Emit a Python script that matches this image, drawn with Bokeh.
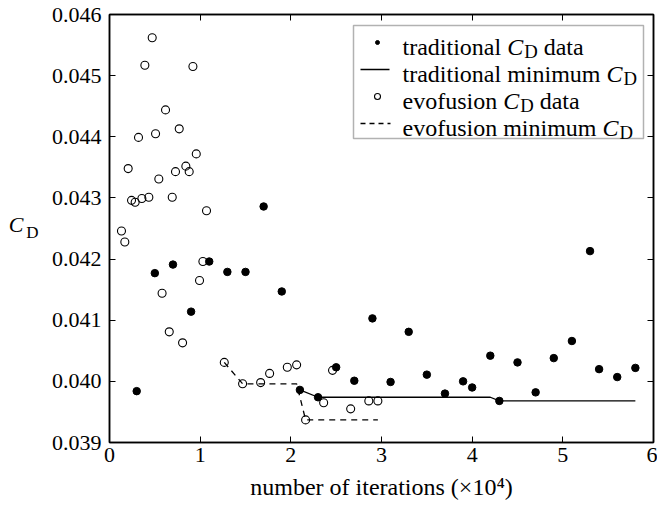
from bokeh.plotting import figure
from bokeh.models import (Range1d, FixedTicker, PrintfTickFormatter, LinearAxis,
                          CustomJSTickFormatter, Label, BoxAnnotation)
from bokeh.embed import file_html
from bokeh.resources import INLINE

# ---------------- data ----------------
trad_x = [0.3, 0.5, 0.7, 0.9, 1.1, 1.3, 1.5, 1.7, 1.9, 2.1, 2.3, 2.5, 2.7, 2.9, 3.1,
          3.3, 3.5, 3.7, 3.9, 4.0, 4.2, 4.3, 4.5, 4.7, 4.9, 5.1, 5.3, 5.4, 5.6, 5.8]
trad_y = [0.03984, 0.04177, 0.04191, 0.04114, 0.04196, 0.04179, 0.04179, 0.04286,
          0.04147, 0.03986, 0.03974, 0.04023, 0.04001, 0.04103, 0.03999, 0.04081,
          0.04011, 0.03980, 0.04000, 0.03990, 0.04042, 0.03968, 0.04031, 0.03982,
          0.04038, 0.04066, 0.04213, 0.04020, 0.04007, 0.04022]

evo_x = [0.132, 0.169, 0.206, 0.243, 0.283, 0.32, 0.357, 0.39, 0.434, 0.471, 0.508,
         0.544, 0.58, 0.618, 0.659, 0.692, 0.728, 0.769, 0.806, 0.842, 0.879, 0.92,
         0.957, 0.993, 1.03, 1.07, 1.266, 1.468, 1.667, 1.766, 1.961, 2.064, 2.163,
         2.362, 2.46, 2.66, 2.86, 2.96]
evo_y = [0.04246, 0.04228, 0.04348, 0.04296, 0.04293, 0.04399, 0.04299, 0.04517,
         0.04301, 0.04562, 0.04405, 0.04331, 0.04144, 0.04444, 0.04081, 0.04301,
         0.04343, 0.04413, 0.04063, 0.04352, 0.04343, 0.04515, 0.04372, 0.04165,
         0.04196, 0.04279, 0.04031, 0.03996, 0.03998, 0.04013, 0.04023, 0.04027,
         0.03937, 0.03965, 0.04018, 0.03955, 0.03968, 0.03968]

trad_min_x = [2.1, 2.3, 4.2, 4.3, 5.8]
trad_min_y = [0.03986, 0.03974, 0.03974, 0.03968, 0.03968]

evo_min_x = [1.266, 1.468, 2.064, 2.163, 2.96]
evo_min_y = [0.04031, 0.03996, 0.03996, 0.03937, 0.03937]

x_ticks = [0, 1, 2, 3, 4, 5, 6]
y_ticks = [0.039, 0.040, 0.041, 0.042, 0.043, 0.044, 0.045, 0.046]

x_title = "number of iterations (\u00d710\u2074)"
y_title_main = "C"
y_title_sub = "D"
legend_rows = [("traditional", "data"), ("traditional minimum", ""),
               ("evofusion", "data"), ("evofusion minimum", "")]

# ---------------- layout ----------------
W, H = 657, 506
FL, FR, FT, FB = 109, 653, 14, 442
X0, X1 = 0, 6
Y0, Y1 = 0.039, 0.046
FONT = "Liberation Serif"


def sx2x(sx):
    return X0 + (sx - FL) / (FR - FL) * (X1 - X0)


def sy2y(sy):
    return Y1 - (sy - FT) / (FB - FT) * (Y1 - Y0)


p = figure(width=W, height=H, x_range=Range1d(X0, X1), y_range=Range1d(Y0, Y1),
           output_backend="svg", toolbar_location=None,
           min_border_left=FL, min_border_right=W - FR,
           min_border_top=FT, min_border_bottom=H - FB)
p.background_fill_color = "white"
p.border_fill_color = "white"
p.outline_line_color = "black"
p.outline_line_width = 1.5
p.xgrid.visible = False
p.ygrid.visible = False

p.xaxis.ticker = FixedTicker(ticks=x_ticks)
p.xaxis.formatter = PrintfTickFormatter(format="%d")
p.yaxis.ticker = FixedTicker(ticks=y_ticks)
p.yaxis.formatter = PrintfTickFormatter(format="%.3f")
for ax in (p.xaxis[0], p.yaxis[0]):
    ax.major_tick_in = 6
    ax.major_tick_out = 0
    ax.minor_tick_in = 0
    ax.minor_tick_out = 0
    ax.major_tick_line_color = "black"
    ax.axis_line_color = "black"
    ax.axis_line_width = 1.5
    ax.major_label_text_font = FONT
    ax.major_label_text_font_size = "22px"
    ax.major_label_text_color = "black"
p.xaxis.major_label_standoff = 5
p.yaxis.major_label_standoff = 8

p.xaxis.axis_label = x_title
p.xaxis.axis_label_text_font = FONT
p.xaxis.axis_label_text_font_size = "24px"
p.xaxis.axis_label_text_font_style = "normal"
p.xaxis.axis_label_text_color = "black"
p.xaxis.axis_label_standoff = 9

# top / right tick-only axes (box style)
for side, tk in (("above", x_ticks), ("right", y_ticks)):
    ax = LinearAxis(ticker=FixedTicker(ticks=tk),
                    formatter=CustomJSTickFormatter(code="return ''"),
                    major_tick_in=6, major_tick_out=0, minor_tick_in=0, minor_tick_out=0,
                    major_label_standoff=0, major_label_text_font_size="1px",
                    axis_line_color="black", axis_line_width=1.5,
                    major_tick_line_color="black")
    p.add_layout(ax, side)

# y title "C_D" built from two label-only axes (subscript D, then italic C);
# an empty line before D (small line height) drops it to subscript position,
# an empty line after C lifts it slightly
for txt, size, style, standoff, lh in (("\n" + y_title_sub, "17px", "normal", 10, 0.45),
                                       (y_title_main + "\n", "22px", "italic", 0, 0.3)):
    ax = LinearAxis(ticker=FixedTicker(ticks=[]), axis_label=txt,
                    axis_label_orientation="horizontal",
                    axis_label_text_font=FONT, axis_label_text_font_size=size,
                    axis_label_text_font_style=style, axis_label_text_color="black",
                    axis_label_text_line_height=lh,
                    axis_label_standoff=standoff, major_label_standoff=0,
                    major_label_text_font_size="1px",
                    major_tick_in=0, major_tick_out=0, minor_tick_in=0, minor_tick_out=0,
                    axis_line_color=None)
    p.add_layout(ax, "left")


def lab(text, sx, sy, size, italic=False, align="left"):
    p.add_layout(Label(x=sx2x(sx), y=sy2y(sy), text=text, text_font=FONT,
                       text_font_size=f"{size}px",
                       text_font_style="italic" if italic else "normal",
                       text_align=align, text_baseline="alphabetic",
                       text_color="black"))


# ---------------- data marks ----------------
p.line(trad_min_x, trad_min_y, line_color="black", line_width=1.3)
p.line(evo_min_x, evo_min_y, line_color="black", line_width=1.3, line_dash="6 5")
p.scatter(trad_x, trad_y, marker="circle", size=7.5, fill_color="black", line_color="black")
p.scatter(evo_x, evo_y, marker="circle", size=8, fill_alpha=0, line_color="black", line_width=1.1)

# ---------------- legend ----------------
p.add_layout(BoxAnnotation(left=sx2x(353), right=sx2x(643), top=sy2y(25), bottom=sy2y(138),
                           fill_color="white", fill_alpha=1.0, line_color="black",
                           line_width=1.5, level="underlay"))
row_mid = [42, 69, 96, 123]
p.scatter([sx2x(377)], [sy2y(row_mid[0])], marker="circle", size=4, color="black")
p.line([sx2x(360), sx2x(389)], [sy2y(row_mid[1])] * 2, line_color="black", line_width=1.3)
p.scatter([sx2x(377)], [sy2y(row_mid[2])], marker="circle", size=6, fill_alpha=0,
          line_color="black", line_width=1.1)
p.line([sx2x(360), sx2x(390)], [sy2y(row_mid[3])] * 2, line_color="black", line_width=1.3,
       line_dash="5 4")

TW = {' ': 250, 'a': 444, 'd': 500, 'e': 444, 'f': 333, 'i': 278, 'l': 278, 'm': 778,
      'n': 500, 'o': 500, 'r': 333, 's': 389, 't': 278, 'u': 500, 'v': 500}


def tw(s, size):
    return sum(TW[c] for c in s) / 1000 * size


LF = 24
for i, (pre, post) in enumerate(legend_rows):
    base = row_mid[i] + 4
    x = 402
    lab(pre, x, base, LF)
    x += tw(pre + " ", LF)
    lab("C", x, base, LF, italic=True)
    x += 0.667 * LF + 1
    lab("D", x, base + 5, LF * 0.78)
    x += 0.722 * LF * 0.78
    if post:
        lab(post, x + tw(" ", LF), base, LF)

open("out.html", "w").write(file_html(p, INLINE))
